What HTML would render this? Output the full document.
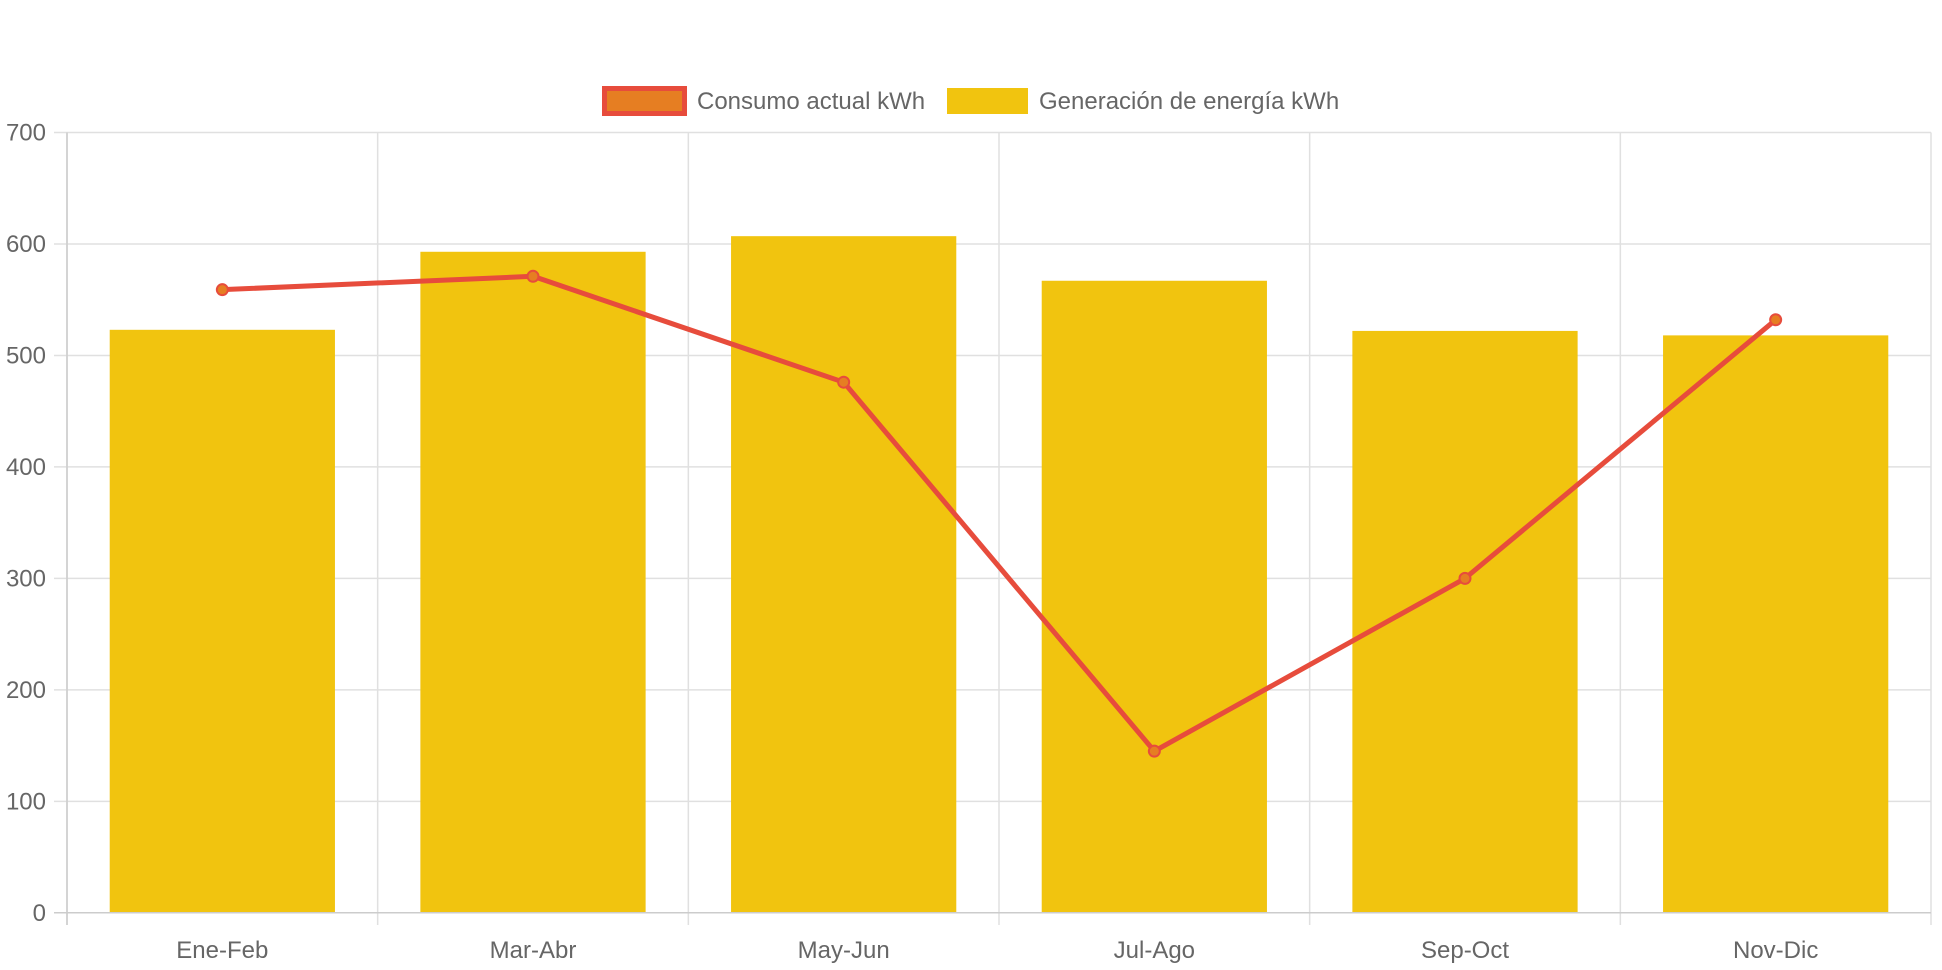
<!DOCTYPE html>
<html><head><meta charset="utf-8">
<style>
html,body{margin:0;padding:0;background:#fff;}
svg{display:block;font-family:"Liberation Sans",sans-serif;}
</style></head>
<body>
<svg id="chart" width="1942" height="970" xmlns="http://www.w3.org/2000/svg">
<g id="legend">
  <g>
    <rect x="604.5" y="88.5" width="80" height="25" fill="#e67e22" stroke="#e74c3c" stroke-width="5"/>
    <text x="697" y="109" font-size="24" fill="#666">Consumo actual kWh</text>
  </g>
  <g>
    <rect x="947" y="88" width="81" height="26" fill="#f1c40f"/>
    <text x="1039" y="109" font-size="24" fill="#666">Generación de energía kWh</text>
  </g>
</g>
<g id="grid"></g>
<g id="bars"></g>
<g id="line"></g>
<g id="axes"></g>
</svg>
<script>
const categories = ["Ene-Feb","Mar-Abr","May-Jun","Jul-Ago","Sep-Oct","Nov-Dic"];
const generacion = [523, 593, 607, 567, 522, 518];
const consumo = [559, 571, 476, 145, 300, 532];
const yTicks = [0,100,200,300,400,500,600,700];

const NS = "http://www.w3.org/2000/svg";
const L = 67, R = 1931, T = 132.5, B = 912.8, YMAX = 700;
const cw = (R - L) / categories.length;
const x = i => L + cw * (i + 0.5);
const y = v => B - (v / YMAX) * (B - T);
function mk(tag, attrs, parent){
  const e = document.createElementNS(NS, tag);
  for (const k in attrs) e.setAttribute(k, attrs[k]);
  parent.appendChild(e); return e;
}
const grid = document.getElementById('grid');
const axes = document.getElementById('axes');
yTicks.forEach(t => {
  const yy = y(t);
  const g = mk('line', {x1: 54, x2: R, y1: yy, y2: yy, stroke: t === 0 ? '#ccc' : '#e0e0e0', 'stroke-width': 1.5}, t === 0 ? axes : grid);
  
  
  const lb = mk('text', {x: 46, y: yy + 8, 'text-anchor': 'end', 'font-size': 24, fill: '#666'}, axes);
  lb.textContent = t;
  
  
});
for (let i = 0; i <= categories.length; i++) {
  const xx = L + cw * i;
  const g = mk('line', {x1: xx, x2: xx, y1: T, y2: 925, stroke: '#e0e0e0', 'stroke-width': 1.5}, grid);
  
  
}
mk('line', {x1: L, x2: L, y1: T, y2: 925, stroke: '#ccc', 'stroke-width': 1.5}, axes);
categories.forEach((c, i) => {
  const lb = mk('text', {x: x(i), y: 958, 'text-anchor': 'middle', 'font-size': 24, fill: '#666'}, axes);
  lb.textContent = c;
  
  
});
const bars = document.getElementById('bars');
const bw = cw * 0.725;
generacion.forEach((v, i) => {
  const r = mk('rect', {x: x(i) - bw / 2, y: y(v), width: bw, height: B - y(v), fill: '#f1c40f'}, bars);
  
  
});
const line = document.getElementById('line');
const pts = consumo.map((v, i) => x(i) + ',' + y(v)).join(' ');
const pl = mk('polyline', {points: pts, fill: 'none', stroke: '#e74c3c', 'stroke-width': 5, 'stroke-linejoin': 'round'}, line);


consumo.forEach((v, i) => {
  const c = mk('circle', {cx: x(i), cy: y(v), r: 5.5, fill: '#e67e22', stroke: '#e74c3c', 'stroke-width': 2}, line);
  
  
});
</script>
</body></html>
